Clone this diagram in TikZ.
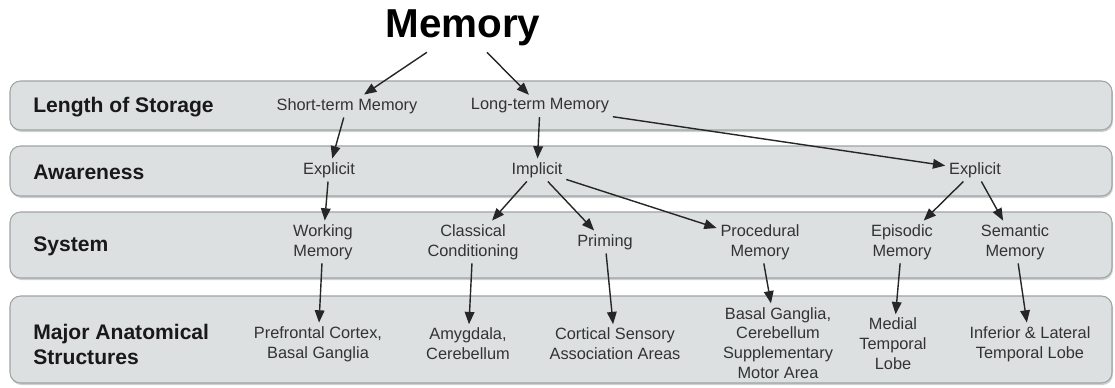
\documentclass[tikz,border=0pt]{standalone}
\usepackage{fontspec}
\setmainfont{Liberation Sans}
\usetikzlibrary{arrows.meta}

\definecolor{bandfill}{HTML}{DCE0E0}
\definecolor{bandline}{HTML}{9EA3A3}
\definecolor{bandshade}{HTML}{CDD1D1}
\definecolor{itemtext}{HTML}{333333}

\begin{document}
\begin{tikzpicture}[x=0.02cm, y=-0.02cm,
        band/.style = {fill=bandfill, draw=bandline, line width=0.6pt, rounded corners=6pt},
        rowlabel/.style = {anchor=west, align=left, text=black!90, inner sep=0pt,
            font={\fontsize{12}{14.2}\selectfont\bfseries}},
        item/.style = {align=center, text=itemtext, inner sep=2pt,
            font={\fontsize{9.3}{11.3}\selectfont}},
        link/.style = {-{Triangle[length=7pt,width=5.5pt]}, line width=0.8pt, black!85}]
            \useasboundingbox (0,0) rectangle (1115,387);

            % the four bands
            \foreach \top/\bot in {81/130, 146/196, 212/278, 296/383} {
                \fill[bandshade, rounded corners=6pt] (11,\top+2) rectangle (1113,\bot+2);
                \draw[band] (10,\top) rectangle (1112,\bot);
            }

            \node[rowlabel] (lenlab) at (33,107) {Length of Storage};
            \node[rowlabel] (awlab) at (33,172) {Awareness};
            \node[rowlabel] (syslab) at (33,246) {System};
            \node[rowlabel] (anatlab) at (33,344) {Major Anatomical\\Structures};

            \node[font={\fontsize{23}{27}\selectfont\bfseries}, black] (mem) at (463,28) {Memory};

            % length of storage
            \node[item] (stm) at (347,106) {Short-term Memory};
            \node[item] (ltm) at (540,106) {Long-term Memory};

            % awareness
            \node[item] (expA) at (329,170) {Explicit};
            \node[item] (impl) at (537,170) {Implicit};
            \node[item] (expB) at (975,170) {Explicit};

            % system
            \node[item] (work) at (323,242) {Working\\Memory};
            \node[item] (class) at (473,242) {Classical\\Conditioning};
            \node[item] (prim) at (605,242) {Priming};
            \node[item] (proc) at (760,242) {Procedural\\Memory};
            \node[item] (epi) at (902,242) {Episodic\\Memory};
            \node[item] (sem) at (1015,242) {Semantic\\Memory};

            % structures
            \node[item] (pfc) at (318,344) {Prefrontal Cortex,\\Basal Ganglia};
            \node[item] (amy) at (468,344) {Amygdala,\\Cerebellum};
            \node[item] (csa) at (615,344) {Cortical Sensory\\Association Areas};
            \node[item] (bgc) at (778,343) {Basal Ganglia,\\Cerebellum\\Supplementary\\Motor Area};
            \node[item] (mtl) at (893,344) {Medial\\Temporal\\Lobe};
            \node[item] (itl) at (1030,344) {Inferior \& Lateral\\Temporal Lobe};

            \draw[link] (mem) -- (stm);
            \draw[link] (mem) -- (ltm);
            \draw[link] (stm) -- (expA);
            \draw[link] (ltm) -- (impl);
            \draw[link] (ltm) -- (expB);
            \draw[link] (expA) -- (work);
            \draw[link] (impl) -- (class);
            \draw[link] (impl) -- (prim);
            \draw[link] (impl) -- (proc);
            \draw[link] (expB) -- (epi);
            \draw[link] (expB) -- (sem);
            \draw[link] (work) -- (pfc);
            \draw[link] (class) -- (amy);
            \draw[link] (prim) -- (csa);
            \draw[link] (proc) -- (bgc);
            \draw[link] (epi) -- (mtl);
            \draw[link] (sem) -- (itl);
        \end{tikzpicture}
\end{document}
